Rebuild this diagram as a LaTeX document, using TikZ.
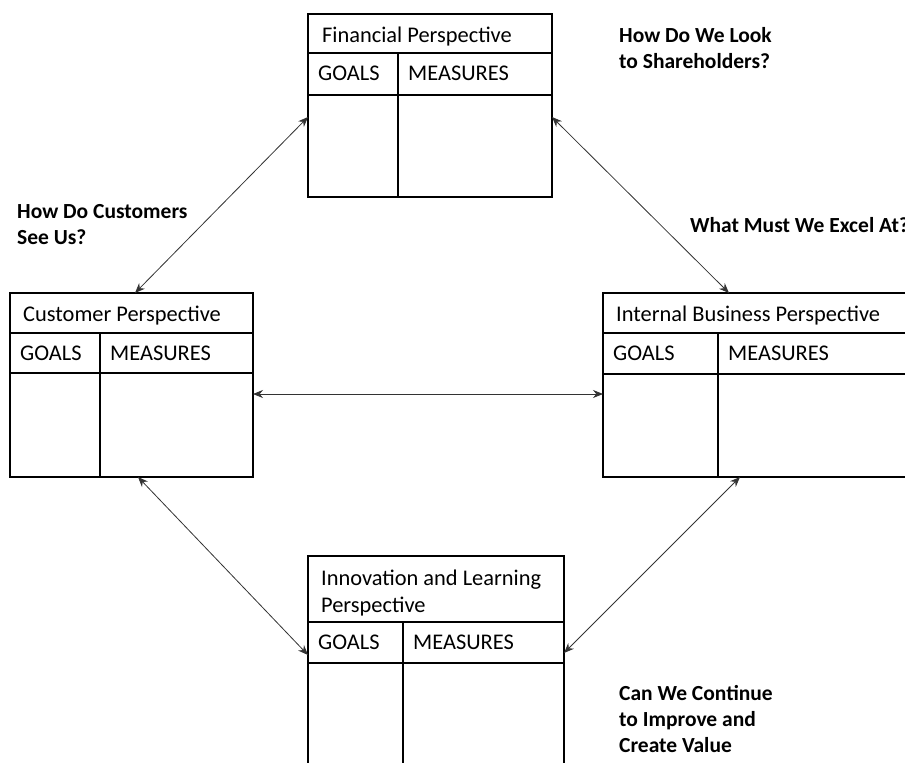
\documentclass[tikz,border=0pt]{standalone}
\usepackage{fontspec}
\setmainfont{Carlito}
\usetikzlibrary{arrows.meta}

\begin{document}
\begin{tikzpicture}
  [x=1pt,y=-1pt,
  persp/.style={draw,line width=1.8pt,anchor=north west,inner sep=0pt,outer sep=0pt},
  cell/.style={line width=1.8pt},
  txt/.style={anchor=base west,inner sep=0pt,align=left,font=\fontsize{22.4}{27}\selectfont},
  ask/.style={anchor=base west,inner sep=0pt,align=left,font=\fontsize{21.5}{26}\selectfont\bfseries},
  link/.style={{Stealth[length=10pt,width=8pt]}-{Stealth[length=10pt,width=8pt]},line width=0.8pt,black!80}]

  \clip (0,0) rectangle (905,763);

  % financial
  \node[persp,minimum width=244pt,minimum height=183pt] (fin) at (308,14) {};
  \draw[cell] (308,53) -- (552,53);
  \draw[cell] (308,95) -- (552,95);
  \draw[cell] (398,53) -- (398,197);
  \node[txt] (fint) at (322,42) {Financial Perspective};
  \node[txt] (fing) at (318,80) {GOALS};
  \node[txt] (finm) at (408,80) {MEASURES};

  % customer
  \node[persp,minimum width=243pt,minimum height=184pt] (cus) at (10,293) {};
  \draw[cell] (10,333) -- (253,333);
  \draw[cell] (10,373) -- (253,373);
  \draw[cell] (100,333) -- (100,477);
  \node[txt] (cust) at (23,321) {Customer Perspective};
  \node[txt] (cusg) at (20,360) {GOALS};
  \node[txt] (cusm) at (110,360) {MEASURES};

  % internal business
  \node[persp,minimum width=312pt,minimum height=184pt] (int) at (603,293) {};
  \draw[cell] (603,333) -- (915,333);
  \draw[cell] (603,374) -- (915,374);
  \draw[cell] (718,333) -- (718,477);
  \node[txt] (intt) at (616,321) {Internal Business Perspective};
  \node[txt] (intg) at (613,360) {GOALS};
  \node[txt] (intm) at (728,360) {MEASURES};

  % innovation and learning
  \node[persp,minimum width=256pt,minimum height=240pt] (inn) at (308,556) {};
  \draw[cell] (308,622) -- (564,622);
  \draw[cell] (308,663) -- (564,663);
  \draw[cell] (403,622) -- (403,796);
  \node[txt] (innt) at (321,612) {Innovation and Learning\\Perspective};
  \node[txt] (inng) at (318,649) {GOALS};
  \node[txt] (innm) at (413,649) {MEASURES};

  % questions
  \node[ask] (qfin) at (619,68) {How Do We Look\\to Shareholders?};
  \node[ask] (qcus) at (17,244) {How Do Customers\\See Us?};
  \node[ask] (qint) at (690,232) {What Must We Excel At?};
  \node[ask] (qinn) at (619,752) {Can We Continue\\to Improve and\\Create Value};

  % links
  \draw[link] ([yshift=-11.5pt]fin.west) -- ([xshift=3.5pt]cus.north);
  \draw[link] ([yshift=-11.5pt]fin.east) -- ([xshift=126pt]int.north west);
  \draw[link] ([yshift=-9pt]cus.east) -- ([yshift=-9pt]int.west);
  \draw[link] ([xshift=6.5pt]cus.south) -- ([yshift=-99pt]inn.north west);
  \draw[link] ([xshift=137pt]int.south west) -- ([yshift=-97pt]inn.north east);

\end{tikzpicture}
\end{document}
